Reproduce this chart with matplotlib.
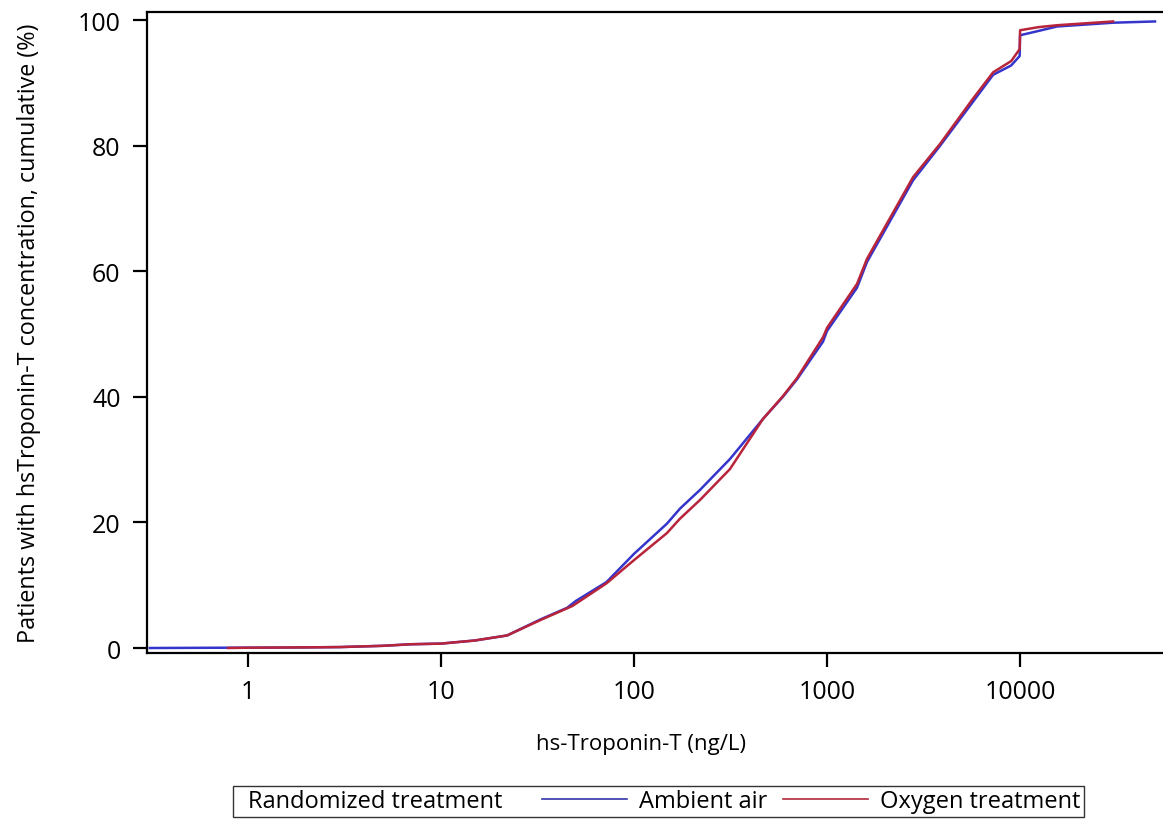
import matplotlib.pyplot as plt
from matplotlib.lines import Line2D

plt.rcParams['font.family'] = ['Open Sans', 'DejaVu Sans']

# cumulative distribution (hs-TnT ng/L, %)
air_x = [0.31, 0.8, 1, 2, 3, 5, 7, 10, 15, 22, 33, 45, 50, 72, 100, 148,
         173, 220, 314, 466, 590, 699, 953, 1000, 1430, 1611, 2790, 3850,
         5700, 7250, 9000, 9950, 10000, 12500, 15550, 30300, 50000]
air_y = [0, 0.05, 0.05, 0.1, 0.15, 0.35, 0.6, 0.7, 1.2, 2.0, 4.6, 6.4,
         7.5, 10.5, 15.0, 19.8, 22.2, 25.2, 30.1, 36.5, 40.0, 42.8, 48.8,
         50.5, 57.4, 61.5, 74.5, 80.0, 87.0, 91.3, 92.8, 94.3, 97.6, 98.3,
         99.0, 99.6, 99.8]

oxy_x = [0.79, 1, 2, 3, 5, 7, 10, 15, 22, 33, 48, 72, 100, 148, 173, 220,
         314, 466, 590, 699, 953, 1000, 1430, 1611, 2790, 3850, 5700, 7250,
         9000, 9950, 10000, 12500, 15550, 30300]
oxy_y = [0, 0.05, 0.1, 0.15, 0.35, 0.6, 0.7, 1.2, 2.0, 4.5, 6.7, 10.3,
         14.0, 18.3, 20.6, 23.6, 28.5, 36.5, 40.1, 43.0, 49.5, 51.0, 58.0,
         62.0, 75.0, 80.3, 87.5, 91.7, 93.5, 95.4, 98.4, 98.9, 99.2, 99.8]

x_ticks = [1, 10, 100, 1000, 10000]
y_ticks = [0, 20, 40, 60, 80, 100]

fig = plt.figure(figsize=(11.63, 8.2), dpi=100)
ax = fig.add_axes([0.1264, 0.2024, 0.8736, 0.7817])

ax.plot(air_x, air_y, color='#3535cc', lw=1.8, label='Ambient air')
ax.plot(oxy_x, oxy_y, color='#b8243a', lw=1.8, label='Oxygen treatment')

ax.set_xscale('log')
ax.set_xlim(0.3, 55000)
ax.set_ylim(-0.8, 101.3)
ax.set_xticks(x_ticks)
ax.set_xticklabels([str(t) for t in x_ticks])
ax.minorticks_off()
ax.set_yticks(y_ticks)

ax.spines['right'].set_visible(False)
for s in ['left', 'bottom', 'top']:
    ax.spines[s].set_linewidth(1.6)
ax.tick_params(axis='both', labelsize=18, width=1.6, length=10, pad=9)

ax.set_xlabel('hs-Troponin-T (ng/L)', fontsize=16)
ax.xaxis.set_label_coords(0.486, -0.125)
ax.set_ylabel('Patients with hsTroponin-T concentration, cumulative (%)',
              fontsize=16.8)
ax.yaxis.set_label_coords(-0.104, 0.5)

blank = Line2D([], [], lw=0)
air_h = Line2D([], [], color='#3535aa', lw=1.2)
oxy_h = Line2D([], [], color='#b02a3a', lw=1.2)
leg = fig.legend([blank, air_h, oxy_h],
                 ['Randomized treatment    ', 'Ambient air', 'Oxygen treatment'],
                 loc='lower center', bbox_to_anchor=(0.566, 0.0), ncol=3,
                 fontsize=17, frameon=True, fancybox=False, edgecolor='black',
                 handlelength=3.6, handletextpad=0.5, columnspacing=0.65,
                 borderpad=0.15, borderaxespad=0.1)
leg.get_frame().set_linewidth(1.0)
# drop the empty handle space in front of the title entry
first = leg._legend_handle_box.get_children()[0].get_children()[0]
first.get_children()[0].width = 0

fig.savefig('out.png', dpi=100)
